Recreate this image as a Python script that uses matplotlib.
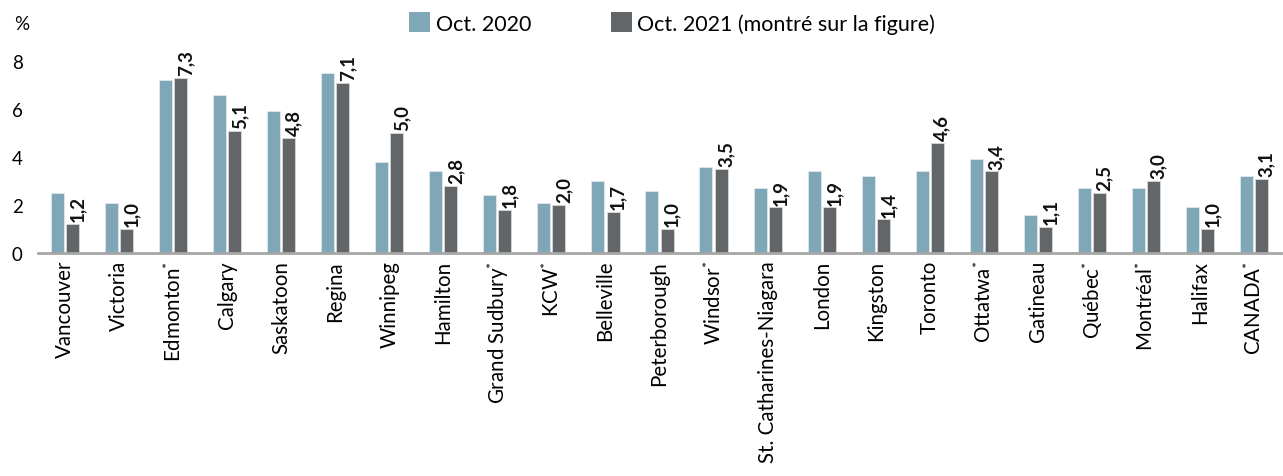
import matplotlib
matplotlib.use("Agg")
import matplotlib.pyplot as plt
import numpy as np
from matplotlib.patches import Patch

plt.rcParams['font.family'] = ['Lato', 'DejaVu Sans']
plt.rcParams['mathtext.fontset'] = 'custom'
plt.rcParams['mathtext.rm'] = 'Lato'
plt.rcParams['mathtext.it'] = 'Lato'

categories = ["Vancouver", "Victoria", "Edmonton$^{*}$", "Calgary", "Saskatoon", "Regina",
              "Winnipeg", "Hamilton", "Grand Sudbury$^{*}$", "KCW$^{*}$", "Belleville",
              "Peterborough", "Windsor$^{*}$", "St. Catharines-Niagara", "London", "Kingston",
              "Toronto", "Ottatwa$^{*}$", "Gatineau", "Québec$^{*}$", "Montréal$^{*}$",
              "Halifax", "CANADA$^{*}$"]
oct2020 = [2.5, 2.1, 7.2, 6.6, 5.9, 7.5, 3.8, 3.4, 2.4, 2.1, 3.0, 2.6, 3.6, 2.7, 3.4, 3.2,
           3.4, 3.9, 1.6, 2.7, 2.7, 1.9, 3.2]
oct2021 = [1.2, 1.0, 7.3, 5.1, 4.8, 7.1, 5.0, 2.8, 1.8, 2.0, 1.7, 1.0, 3.5, 1.9, 1.9, 1.4,
           4.6, 3.4, 1.1, 2.5, 3.0, 1.0, 3.1]
yticks = [0, 2, 4, 6, 8]
legend_labels = ["Oct. 2020", "Oct. 2021 (montré sur la figure)"]

c2020 = "#7fa7b8"
c2021 = "#636669"

fig = plt.figure(figsize=(12.83, 4.77), dpi=100)
ax = fig.add_axes([38/1283, (477-254)/477, (1281-38)/1283, 206/477])

x = np.arange(len(categories))
w = 0.24
off = 0.14
ax.bar(x - off, oct2020, width=w, color=c2020, edgecolor="#dfe8ec", linewidth=0.6)
ax.bar(x + off, oct2021, width=w, color=c2021, edgecolor="#d8d8d8", linewidth=0.6)

for xi, v in zip(x, oct2021):
    ax.annotate(f"{v:.1f}".replace(".", ","), xy=(xi + off, v), xytext=(3.5, 2),
                textcoords="offset points", rotation=90, ha="center", va="bottom",
                fontsize=13.5, fontweight="bold", color="#111111", annotation_clip=False)

ax.set_xlim(-0.5, len(categories) - 0.5)
ax.set_ylim(0, 206/24)
ax.set_yticks(yticks)
ax.set_yticklabels([str(t) for t in yticks], fontsize=13.5)
ax.set_xticks(x)
ax.set_xticklabels(categories, rotation=90, fontsize=14.8)
ax.tick_params(axis="both", length=0)
ax.tick_params(axis="y", pad=11)
ax.tick_params(axis="x", pad=5)
for s in ["top", "right", "left"]:
    ax.spines[s].set_visible(False)
ax.spines["bottom"].set_color("#a6a6a6")
ax.spines["bottom"].set_linewidth(2)

fig.text(14/1283, 1 - 24/477, "%", fontsize=13.5, va="center", ha="left")

handles = [Patch(facecolor=c2020, edgecolor="none"), Patch(facecolor=c2021, edgecolor="none")]
fig.legend(handles, legend_labels, loc="center", bbox_to_anchor=(672/1283, 1 - 24/477),
           ncol=2, frameon=False, fontsize=15.5, handlelength=1.0, handleheight=1.0,
           handletextpad=0.25, columnspacing=3.7, borderpad=0, borderaxespad=0)

fig.savefig("out.png", dpi=100)
